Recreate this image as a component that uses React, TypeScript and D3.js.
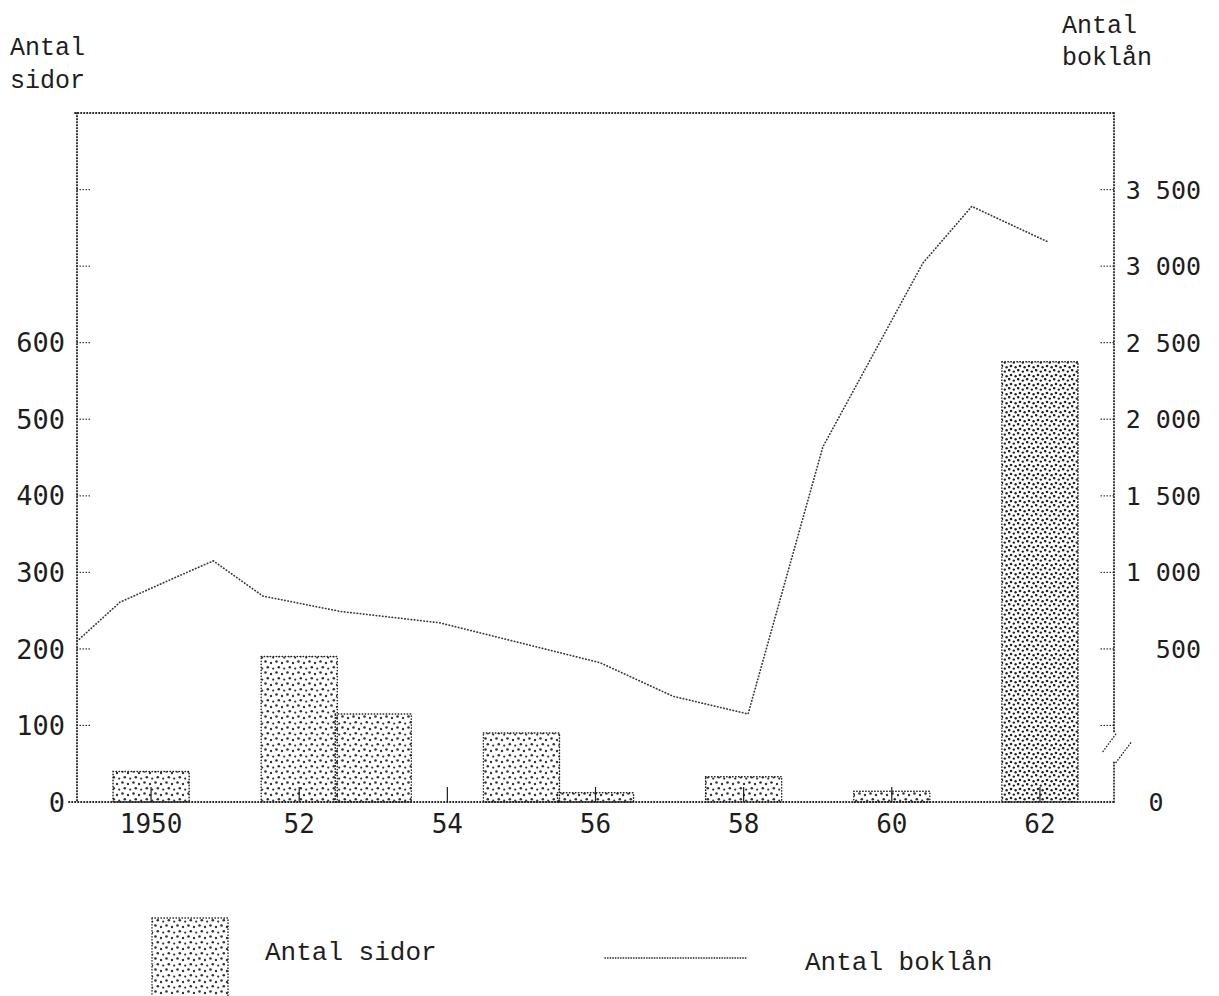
import * as d3 from "d3";

// Antal sidor (bars, left axis)
const barYears = [1950, 1952, 1953, 1954, 1955, 1956, 1958, 1960, 1962];
const pageCounts = [40, 190, 115, 0, 90, 12, 33, 14, 575];

// Antal boklån (dotted line, right axis) - vertices
const loanYears = [1949.0, 1949.58, 1950.39, 1950.84, 1951.51, 1952.55, 1953.9, 1956.06, 1957.05, 1958.06, 1959.07, 1960.42, 1961.08, 1962.1];
const loanCounts = [550, 805, 980, 1075, 845, 745, 670, 410, 190, 75, 1820, 3020, 3390, 3160];

const xTickYears = [1950, 1952, 1954, 1956, 1958, 1960, 1962];
const xTickLabels = ["1950", "52", "54", "56", "58", "60", "62"];
const leftTicks = [100, 200, 300, 400, 500, 600, 700, 800];
const leftLabels = [0, 100, 200, 300, 400, 500, 600];
const rightTicks = [0, 500, 1000, 1500, 2000, 2500, 3000, 3500];

const mono = "'Liberation Mono', 'DejaVu Sans Mono', monospace";
const digits = "'DejaVu Sans Mono', 'Liberation Mono', monospace";
const ink = "#1e1e1e";

const fmt = d3
  .formatLocale({ decimal: ",", thousands: " ", grouping: [3], currency: ["", ""] })
  .format(",");

const App = () => {
  const width = 1219;
  const height = 996;

  const x = d3.scaleLinear().domain([1949, 1963]).range([77, 1114]);
  const yLeft = d3.scaleLinear().domain([0, 900]).range([802, 113]);
  const yRight = d3.scaleLinear().domain([0, 4000]).range([yLeft(100), yLeft(900)]);

  const [x0, x1] = x.range();
  const [yBottom, yTop] = yLeft.range();

  const line = d3
    .line<number>()
    .x((d, i) => x(loanYears[i]))
    .y((d) => yRight(d));

  const dotted = {
    stroke: ink,
    strokeWidth: 1.8,
    strokeDasharray: "0.4 2.6",
    strokeLinecap: "round" as const,
    fill: "none",
  };

  const breakY = yRight(0) + 22;
  const barHalf = (x(1950.5) - x(1949.5)) / 2 + 1;

  return (
    <svg width={width} height={height} style={{ position: "absolute", left: 0, top: 0, background: "#fff" }}>
      <defs>
        <pattern id="stipple" width="11" height="11" patternUnits="userSpaceOnUse">
          <circle cx="1.5" cy="1.5" r="1.3" fill="#333" />
          <circle cx="7" cy="3" r="1.2" fill="#333" />
          <circle cx="3.8" cy="7.2" r="1.3" fill="#333" />
          <circle cx="9.2" cy="8.6" r="1.1" fill="#333" />
        </pattern>
        <pattern id="stippleDense" width="9" height="9" patternUnits="userSpaceOnUse">
          <circle cx="1.2" cy="1.2" r="1.3" fill="#222" />
          <circle cx="5.8" cy="2.6" r="1.2" fill="#222" />
          <circle cx="3" cy="6" r="1.3" fill="#222" />
          <circle cx="7.6" cy="7.3" r="1.2" fill="#222" />
        </pattern>
      </defs>

      {/* axis titles */}
      <text x={10} y={55} fontFamily={mono} fontSize={25} fill={ink}>Antal</text>
      <text x={10} y={88} fontFamily={mono} fontSize={25} fill={ink}>sidor</text>
      <text x={1062} y={33} fontFamily={mono} fontSize={25} fill={ink}>Antal</text>
      <text x={1062} y={65} fontFamily={mono} fontSize={25} fill={ink}>boklån</text>

      {/* bars */}
      {barYears.map((yr, i) =>
        pageCounts[i] > 0 ? (
          <rect
            key={`bar-${yr}`}
            x={x(yr) - barHalf}
            y={yLeft(pageCounts[i])}
            width={barHalf * 2}
            height={yLeft(0) - yLeft(pageCounts[i])}
            {...dotted}
            strokeWidth={1.5}
            fill={pageCounts[i] > 300 ? "url(#stippleDense)" : "url(#stipple)"}
          />
        ) : null
      )}

      {/* frame */}
      <line x1={x0 - 2} x2={x1} y1={yTop} y2={yTop} {...dotted} />
      <line x1={x0} x2={x0} y1={yTop} y2={yBottom} {...dotted} />
      <line x1={x0 - 8} x2={x1} y1={yBottom} y2={yBottom} {...dotted} />
      <line x1={x1} x2={x1} y1={yTop} y2={breakY - 15} {...dotted} />
      <line x1={x1} x2={x1} y1={breakY + 15} y2={yBottom} {...dotted} />
      <line x1={x1 - 11} x2={x1 + 3} y1={breakY + 4} y2={breakY - 15} {...dotted} strokeWidth={1.4} />
      <line x1={x1 + 2} x2={x1 + 17} y1={breakY + 15} y2={breakY - 5} {...dotted} strokeWidth={1.4} />

      {/* left ticks */}
      {leftTicks.map((t) => (
        <line key={`lt-${t}`} x1={x0} x2={x0 + 13} y1={yLeft(t)} y2={yLeft(t)} {...dotted} strokeWidth={1.2} />
      ))}
      {leftLabels.map((t) => (
        <text
          key={`ll-${t}`}
          x={65}
          y={yLeft(t)}
          dy="0.36em"
          textAnchor="end"
          fontFamily={digits}
          fontSize={27}
          fill={ink}
        >
          {t}
        </text>
      ))}

      {/* right ticks */}
      {rightTicks.map((t) => (
        <line key={`rt-${t}`} x1={x1 - 13} x2={x1} y1={yRight(t)} y2={yRight(t)} {...dotted} strokeWidth={1.2} />
      ))}
      {rightTicks
        .filter((t) => t > 0)
        .map((t) => (
          <text
            key={`rl-${t}`}
            x={1201}
            y={yRight(t)}
            dy="0.36em"
            textAnchor="end"
            fontFamily={digits}
            fontSize={25}
            fill={ink}
          >
            {fmt(t)}
          </text>
        ))}
      <text x={1156} y={yLeft(0)} dy="0.36em" textAnchor="middle" fontFamily={digits} fontSize={25} fill={ink}>
        0
      </text>

      {/* x ticks */}
      {xTickYears.map((yr, i) => (
        <g key={`xt-${yr}`}>
          <line x1={x(yr)} x2={x(yr)} y1={yBottom - 15} y2={yBottom} stroke={ink} strokeWidth={1.2} />
          <text x={x(yr)} y={833} textAnchor="middle" fontFamily={digits} fontSize={26} fill={ink}>
            {xTickLabels[i]}
          </text>
        </g>
      ))}

      {/* loans line */}
      <path d={line(loanCounts) ?? ""} {...dotted} stroke="#3a3a3a" strokeWidth={1.7} strokeDasharray="0.4 2.8" />

      {/* legend */}
      <rect x={152} y={918} width={76} height={82} {...dotted} strokeWidth={1.4} fill="url(#stipple)" />
      <text x={265} y={960} fontFamily={mono} fontSize={26} fill={ink}>Antal sidor</text>
      <line x1={605} x2={748} y1={958} y2={958} {...dotted} strokeWidth={1.5} strokeDasharray="0.4 2.2" />
      <text x={805} y={970} fontFamily={mono} fontSize={26} fill={ink}>Antal boklån</text>
    </svg>
  );
};

export default App;
